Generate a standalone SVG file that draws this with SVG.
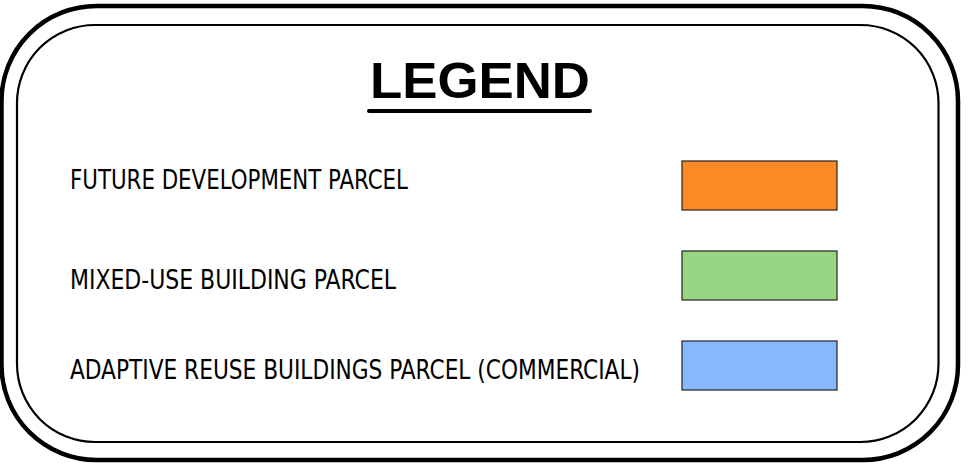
<svg xmlns="http://www.w3.org/2000/svg" width="980" height="464" viewBox="0 0 980 464">
<style>
.lbl{font-family:"DejaVu Sans Condensed","Liberation Sans",sans-serif;font-size:26.5px;fill:#000}
.sw{stroke:#222;stroke-width:1.2}
</style>
<rect width="980" height="464" fill="#fff"/>
<g id="frame" fill="none" stroke="#000">
<rect x="1.5" y="6" width="956.5" height="454" rx="95" ry="95" stroke-width="4.5"/>
<rect x="17" y="25" width="921.5" height="417" rx="78" ry="78" stroke-width="2.2"/>
</g>
<g id="title">
<text x="370" y="98" font-family="Liberation Sans, Arial, sans-serif" font-weight="bold" font-size="50" textLength="220" lengthAdjust="spacingAndGlyphs">LEGEND</text>
<line x1="369" y1="111" x2="590" y2="111" stroke="#000" stroke-width="4" stroke-linecap="round"/>
</g>
<g id="item-future">
<text class="lbl" x="70" y="188.5" textLength="338" lengthAdjust="spacingAndGlyphs">FUTURE DEVELOPMENT PARCEL</text>
<rect class="sw" x="682" y="161" width="155" height="49" fill="#FC8A24"/>
</g>
<g id="item-mixed">
<text class="lbl" x="70" y="288.5" textLength="326" lengthAdjust="spacingAndGlyphs">MIXED-USE BUILDING PARCEL</text>
<rect class="sw" x="682" y="251" width="155" height="49" fill="#98D683"/>
</g>
<g id="item-adaptive">
<text class="lbl" x="70" y="378.5" textLength="570" lengthAdjust="spacingAndGlyphs">ADAPTIVE REUSE BUILDINGS PARCEL (COMMERCIAL)</text>
<rect class="sw" x="682" y="341" width="155" height="49" fill="#86B8FB"/>
</g>
</svg>
